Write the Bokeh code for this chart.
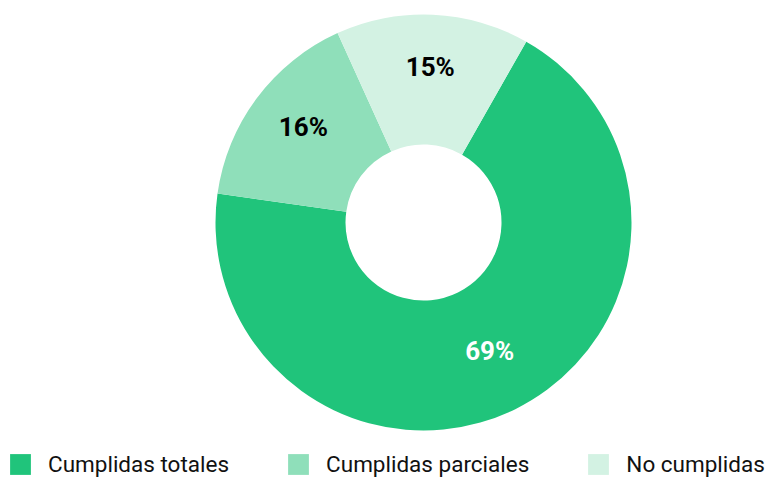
import numpy as np
from bokeh.plotting import figure
from bokeh.models import ColumnDataSource, Legend, LegendItem, Range1d
from bokeh.core.properties import value
from bokeh.embed import file_html
from bokeh.resources import INLINE

# ---- data ----
categories = ["Cumplidas totales", "Cumplidas parciales", "No cumplidas"]
shares = [69, 16, 15]
labels = ["69%", "16%", "15%"]
colors = ["#20C47B", "#8FDFBA", "#D3F2E3"]
label_colors = ["#FFFFFF", "#000000", "#000000"]

# ---- layout ----
W, H = 768, 477
CX, CY = 423, 255
R_OUT, R_IN = 208, 78
R_LABEL = 150
START_DEG = 29.6  # clockwise from 12 o'clock

vals = np.array(shares, dtype=float)
frac = vals / vals.sum()
theta_start = START_DEG + 360 * np.concatenate([[0], np.cumsum(frac)[:-1]])
theta_end = theta_start + 360 * frac
theta_mid = (theta_start + theta_end) / 2

src = ColumnDataSource(dict(
    cat=categories,
    start=np.radians(90 - theta_start),
    end=np.radians(90 - theta_end),
    color=colors,
    x=[CX] * 3, y=[CY] * 3,
))

lab_src = ColumnDataSource(dict(
    x=CX + R_LABEL * np.sin(np.radians(theta_mid)),
    y=CY + R_LABEL * np.cos(np.radians(theta_mid)),
    text=labels,
    color=label_colors,
))

p = figure(width=W, height=H, x_range=Range1d(0, W), y_range=Range1d(0, H),
           output_backend="svg", toolbar_location=None, min_border=0,
           outline_line_color=None, background_fill_color="white")
p.axis.visible = False
p.grid.visible = False

r = p.annular_wedge(x="x", y="y", inner_radius=R_IN, outer_radius=R_OUT,
                    start_angle="start", end_angle="end", direction="clock",
                    fill_color="color", line_color=None, source=src)

p.text(x="x", y="y", text="text", text_color="color", source=lab_src,
       text_align="center", text_baseline="middle", y_offset=-6,
       text_font=value("Roboto"), text_font_size="26px", text_font_style="bold")

items = [LegendItem(label=c, renderers=[r], index=i) for i, c in enumerate(categories)]
legend = Legend(items=items, orientation="horizontal", location=(7, 0),
                padding=0, margin=0, spacing=56, label_standoff=15,
                glyph_width=26, glyph_height=26,
                label_text_font="Roboto", label_text_font_size="22.5px",
                label_text_color="#111111", label_text_baseline="middle",
                border_line_color=None, background_fill_alpha=0)
p.add_layout(legend)

open("out.html", "w").write(file_html(p, INLINE))
